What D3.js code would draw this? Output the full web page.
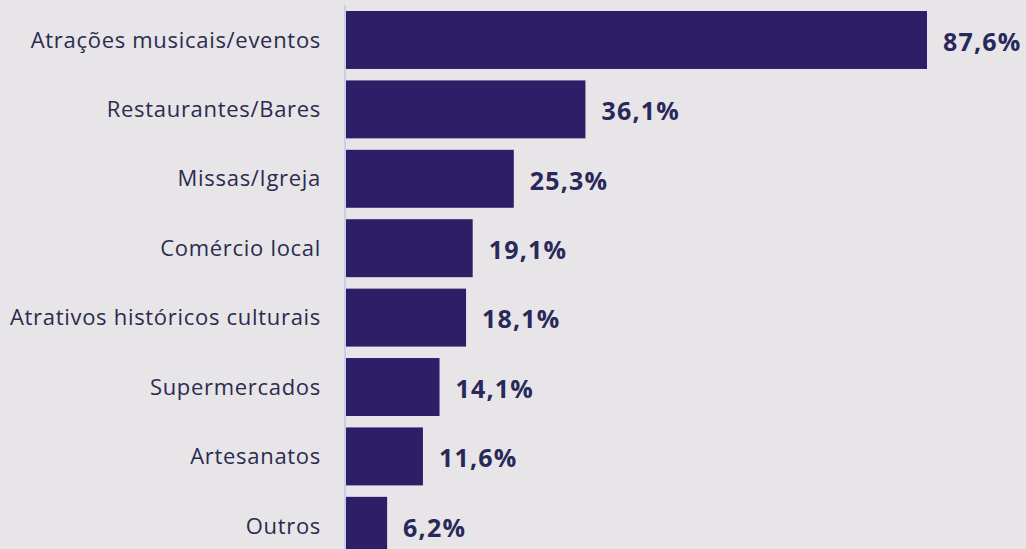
<!DOCTYPE html>
<html lang="pt">
<head>
<meta charset="UTF-8">
<title>Atrações</title>
<script src="https://d3js.org/d3.v7.min.js"></script>
<style>
  html, body { margin: 0; padding: 0; background: #e7e5e8; overflow: hidden; }
  .cat { font-family: "Open Sans", sans-serif; font-size: 22px; letter-spacing: 0.7px; fill: #2b2b4f; }
  .val { font-family: "Open Sans", sans-serif; font-size: 25px; font-weight: 700; letter-spacing: 1.2px; fill: #28285a; }
</style>
</head>
<body>
<div id="chart"></div>
<script>
const categories = ["Atrações musicais/eventos", "Restaurantes/Bares", "Missas/Igreja", "Comércio local",
  "Atrativos históricos culturais", "Supermercados", "Artesanatos", "Outros"];
const values = [87.6, 36.1, 25.3, 19.1, 18.1, 14.1, 11.6, 6.2];

const width = 1026, height = 549;
const data = categories.map((c, i) => ({ cat: c, value: values[i] }));

const svg = d3.select("#chart").append("svg")
    .attr("width", width)
    .attr("height", height);

svg.append("rect").attr("width", width).attr("height", height).attr("fill", "#e7e5e8");

const x = d3.scaleLinear()
    .domain([0, 87.6])
    .range([346, 927]);

const y = d3.scaleBand()
    .domain(categories)
    .range([11, 554.8])
    .paddingInner(0.165)
    .paddingOuter(0);

svg.append("g")
    .selectAll("rect")
    .data(data)
    .enter().append("rect")
    .attr("x", x(0))
    .attr("y", d => y(d.cat))
    .attr("width", d => x(d.value) - x(0))
    .attr("height", y.bandwidth())
    .attr("fill", "#2c1e67");

// vertical axis line
svg.append("line")
    .attr("x1", 345).attr("x2", 345)
    .attr("y1", 5).attr("y2", height)
    .attr("stroke", "#cfcce9")
    .attr("stroke-width", 2);

svg.append("g")
    .selectAll("text")
    .data(data)
    .enter().append("text")
    .attr("class", "cat")
    .attr("x", 321)
    .attr("y", d => y(d.cat) + y.bandwidth() / 2)
    .attr("dy", "0.35em")
    .attr("text-anchor", "end")
    .text(d => d.cat);

svg.append("g")
    .selectAll("text")
    .data(data)
    .enter().append("text")
    .attr("class", "val")
    .attr("x", d => x(d.value) + 16)
    .attr("y", d => y(d.cat) + y.bandwidth() / 2 + 2)
    .attr("dy", "0.35em")
    .text(d => d.value.toFixed(1).replace(".", ",") + "%");
</script>
</body>
</html>
